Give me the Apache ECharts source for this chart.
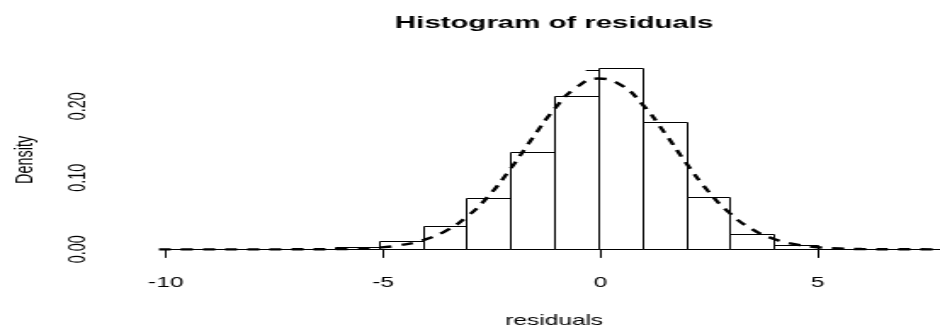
<!DOCTYPE html>
<html>
<head>
<meta charset="utf-8">
<script src="https://cdn.jsdelivr.net/npm/echarts@6/dist/echarts.min.js"></script>
<style>
html, body { margin: 0; padding: 0; background: #fff; overflow: hidden; }
/* the reference is an R plot stretched sideways, so draw narrow and stretch */
#container { width: 553px; height: 329px; transform: scaleX(1.6998); transform-origin: 0 0; }
</style>
</head>
<body>
<div id="container"></div>
<script>
// histogram bins (width 1) and their densities
var binStart = [-10, -9, -8, -7, -6, -5, -4, -3, -2, -1, 0, 1, 2, 3, 4, 5, 6, 7];
var density = [0.0005, 0, 0, 0.0005, 0.0036, 0.012, 0.0326, 0.0714, 0.136, 0.215, 0.254, 0.178, 0.0737, 0.0214, 0.0056, 0.001, 0.0005, 0.0005];

// dashed normal curve
var curveX = [-10, -9, -8, -7, -6, -5.5, -5, -4.5, -4, -3.5, -3, -2.5, -2, -1.5, -1, -0.5, 0, 0.5, 1, 1.5, 2, 2.5, 3, 3.5, 4, 4.5, 5, 5.5, 6, 7, 8];
var curveY = [0, 0, 0, 0.00002, 0.0003, 0.001, 0.0025, 0.0059, 0.0126, 0.0249, 0.0451, 0.0744, 0.1125, 0.1553, 0.196, 0.2263, 0.2388, 0.2304, 0.2031, 0.1639, 0.1208, 0.0815, 0.0502, 0.0283, 0.0145, 0.0069, 0.003, 0.0012, 0.0004, 0.00004, 0];

// axis ticks
var xTicks = [-10, -5, 0, 5];
var yTicks = [0, 0.05, 0.10, 0.15, 0.20, 0.25];
var yLabels = ['0.00', '', '0.10', '', '0.20', ''];

var FONT = '"Liberation Sans", Arial, sans-serif';

var bars = [];
for (var i = 0; i < binStart.length; i++) {
    bars.push([binStart[i], binStart[i] + 1, density[i]]);
}
var curve = [];
for (var j = 0; j < curveX.length; j++) {
    curve.push([curveX[j], curveY[j]]);
}

var dom = document.getElementById("container");
var myChart = echarts.init(dom);

var option = {
    animation: false,
    title: {
        text: 'Histogram of residuals',
        left: 326,
        top: 15,
        textAlign: 'center',
        padding: 0,
        textStyle: { fontFamily: FONT, fontSize: 17.3, fontWeight: 'bold', color: '#000' }
    },
    grid: [
        // plot region (R's usr, padded 4%), cut at the right edge of the picture
        { left: 74.9, top: 60.4, width: 478.1, height: 196.2 },
        // axis frame: x from -10 to 5, y from 0 to 0.25
        { left: 93.5, top: 70.5, width: 387.6, height: 178.8 }
    ],
    xAxis: [
        { gridIndex: 0, type: 'value', min: -10.72, max: 7.78, show: false },
        {
            gridIndex: 1, type: 'value',
            min: xTicks[0], max: xTicks[xTicks.length - 1], interval: 5,
            position: 'bottom', offset: 7.3,
            axisLine: { show: true, lineStyle: { color: '#000', width: 1 } },
            axisTick: { show: true, length: 8.6, lineStyle: { color: '#000' } },
            axisLabel: { fontFamily: FONT, fontSize: 14.4, color: '#000', margin: 19 },
            splitLine: { show: false }
        }
    ],
    yAxis: [
        { gridIndex: 0, type: 'value', min: -0.01016, max: 0.2642, show: false },
        {
            gridIndex: 1, type: 'value',
            min: 0, max: 0.25, interval: 0.05,
            position: 'left', offset: 18.5,
            name: 'Density', nameLocation: 'middle', nameRotate: 90, nameGap: 57,
            nameTextStyle: { fontFamily: FONT, fontSize: 14.4, color: '#000' },
            axisLine: { show: true, lineStyle: { color: '#000', width: 1 } },
            axisTick: { show: true, length: 8.6, lineStyle: { color: '#000' } },
            axisLabel: {
                fontFamily: FONT, fontSize: 14.4, color: '#000', rotate: 90, margin: 26,
                formatter: function (v) {
                    for (var k = 0; k < yTicks.length; k++) {
                        if (Math.abs(yTicks[k] - v) < 1e-9) return yLabels[k];
                    }
                    return '';
                }
            },
            splitLine: { show: false }
        }
    ],
    graphic: [
        {
            type: 'text', x: 326, y: 321,
            style: { text: 'residuals', align: 'center', verticalAlign: 'middle', fontFamily: FONT, fontSize: 14.4, fill: '#000' }
        }
    ],
    series: [
        {
            type: 'custom',
            xAxisIndex: 0, yAxisIndex: 0,
            data: bars,
            renderItem: function (params, api) {
                var p0 = api.coord([api.value(0), api.value(2)]);
                var p1 = api.coord([api.value(1), 0]);
                var x0 = Math.round(p0[0]) + 0.5, x1 = Math.round(p1[0]) + 0.5;
                var y0 = Math.round(p0[1]) + 0.5, y1 = Math.round(p1[1]) + 0.5;
                return {
                    type: 'rect',
                    shape: { x: x0, y: y0, width: x1 - x0, height: y1 - y0 },
                    style: { fill: '#fff', stroke: '#000', lineWidth: 1 }
                };
            },
            z: 2
        },
        {
            type: 'line',
            xAxisIndex: 0, yAxisIndex: 0,
            data: curve,
            smooth: true,
            showSymbol: false,
            lineStyle: { color: '#000', width: 2.4, type: [7, 6] },
            z: 3
        }
    ]
};

myChart.setOption(option);
</script>
</body>
</html>
